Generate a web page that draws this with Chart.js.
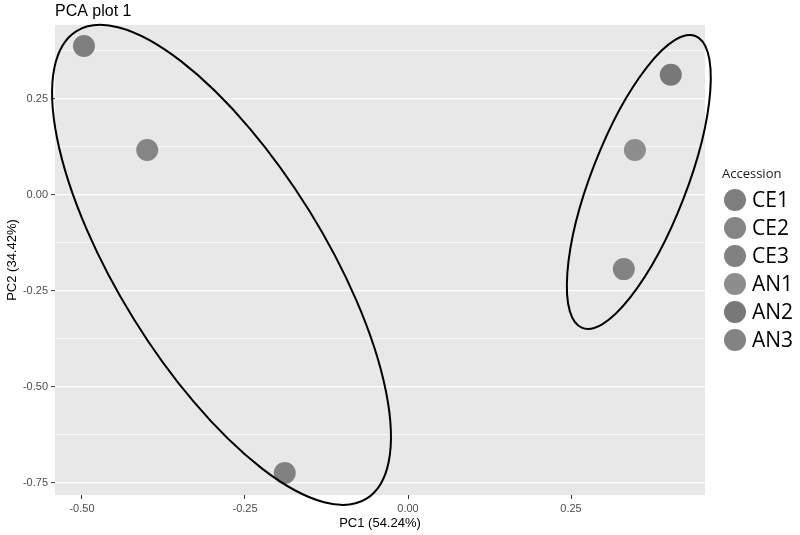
<!DOCTYPE html>
<html>
<head>
<meta charset="utf-8">
<title>PCA plot 1</title>
<script src="https://cdn.jsdelivr.net/npm/chart.js@4.4.0/dist/chart.umd.min.js"></script>
<style>
  html, body { margin: 0; padding: 0; background: #ffffff; }
  #wrap { width: 800px; height: 535px; position: relative; }
</style>
</head>
<body>
<div id="wrap"><canvas id="pca-chart"></canvas></div>
<script>
// datos
const accessions = ['CE1', 'CE2', 'CE3', 'AN1', 'AN2', 'AN3'];
const pc1 = [-0.497, -0.400, -0.189, 0.348, 0.403, 0.331];
const pc2 = [0.388, 0.117, -0.724, 0.117, 0.313, -0.193];
const pointColors = ['#7e7e7e', '#858585', '#818181', '#8d8d8d', '#787878', '#838383'];

// elipses (centro y semiejes en unidades de PC1 / PC2)
const ellipseCx = [-0.286, 0.354];
const ellipseCy = [-0.182, 0.034];
const ellipseMajorX = [0.2224, 0.0868];
const ellipseMajorY = [-0.6089, 0.3802];
const ellipseMinorX = [-0.1344, 0.0682];
const ellipseMinorY = [-0.1415, -0.0449];

const xTicksMajor = [-0.5, -0.25, 0, 0.25];
const yTicksMajor = [-0.75, -0.5, -0.25, 0, 0.25];

const fontFamily = "'Liberation Sans', Arial, sans-serif";

function isMajor(v, list) {
    return list.some(t => Math.abs(t - v) < 1e-6);
}

// fondo gris del panel
const panelBg = {
    id: 'panelBg',
    beforeDraw(chart) {
        const { ctx, chartArea: a } = chart;
        ctx.save();
        ctx.fillStyle = '#e8e8e8';
        ctx.fillRect(a.left, a.top, a.right - a.left, a.bottom - a.top);
        ctx.restore();
    }
};

// elipses dibujadas sobre los puntos
const ellipses = {
    id: 'ellipses',
    afterDatasetsDraw(chart) {
        const { ctx } = chart;
        const xs = chart.scales.x, ys = chart.scales.y;
        ctx.save();
        ctx.strokeStyle = '#000000';
        ctx.lineWidth = 2;
        for (let i = 0; i < ellipseCx.length; i++) {
            const px = xs.getPixelForValue(ellipseCx[i]);
            const py = ys.getPixelForValue(ellipseCy[i]);
            const mx = xs.getPixelForValue(ellipseCx[i] + ellipseMajorX[i]) - px;
            const my = ys.getPixelForValue(ellipseCy[i] + ellipseMajorY[i]) - py;
            const nx = xs.getPixelForValue(ellipseCx[i] + ellipseMinorX[i]) - px;
            const ny = ys.getPixelForValue(ellipseCy[i] + ellipseMinorY[i]) - py;
            ctx.beginPath();
            ctx.ellipse(px, py, Math.hypot(mx, my), Math.hypot(nx, ny), Math.atan2(my, mx), 0, Math.PI * 2);
            ctx.stroke();
        }
        ctx.restore();
    }
};

// titulo y leyenda
const extras = {
    id: 'extras',
    afterDraw(chart) {
        const { ctx, chartArea: a } = chart;
        ctx.save();
        ctx.fillStyle = '#000000';
        ctx.font = '16px ' + fontFamily;
        ctx.textBaseline = 'alphabetic';
        ctx.textAlign = 'left';
        ctx.fillText('PCA plot 1', a.left, 16);

        const lx = 722;
        ctx.font = "13px 'Open Sans', sans-serif";
        ctx.textBaseline = 'middle';
        ctx.fillStyle = '#1a1a1a';
        ctx.fillText('Accession', lx, 174);
        ctx.font = "21px 'Open Sans', sans-serif";
        accessions.forEach((name, i) => {
            const y = 200 + i * 28;
            ctx.fillStyle = pointColors[i];
            ctx.beginPath();
            ctx.arc(lx + 13, y, 11, 0, Math.PI * 2);
            ctx.fill();
            ctx.fillStyle = '#000000';
            ctx.fillText(name, lx + 30, y + 1);
        });
        ctx.restore();
    }
};

const ctx = document.getElementById('pca-chart');

new Chart(ctx, {
    type: 'scatter',
    data: {
        datasets: accessions.map((name, i) => ({
            label: name,
            data: [{ x: pc1[i], y: pc2[i] }],
            backgroundColor: pointColors[i],
            borderWidth: 0,
            pointRadius: 11,
            pointHoverRadius: 11
        }))
    },
    options: {
        responsive: true,
        maintainAspectRatio: false,
        animation: false,
        layout: { padding: { top: 25, right: 95, left: 0, bottom: 0 } },
        plugins: {
            legend: { display: false },
            tooltip: { enabled: false }
        },
        scales: {
            x: {
                type: 'linear',
                min: -0.5414,
                max: 0.4555,
                afterFit(scale) { scale.height = 40; },
                border: { display: false },
                grid: {
                    drawOnChartArea: false,
                    tickLength: 4,
                    tickColor: '#333333',
                    tickWidth: 1
                },
                ticks: {
                    stepSize: 0.25,
                    includeBounds: false,
                    padding: 3,
                    color: '#4d4d4d',
                    font: { family: fontFamily, size: 11 },
                    callback: v => v.toFixed(2)
                },
                title: {
                    display: true,
                    text: 'PC1 (54.24%)',
                    color: '#000000',
                    font: { family: fontFamily, size: 13 },
                    padding: { top: 0, bottom: 4 }
                }
            },
            y: {
                type: 'linear',
                min: -0.7813,
                max: 0.4427,
                afterFit(scale) { scale.width = 55; },
                border: { display: false },
                grid: {
                    color: '#ffffff',
                    lineWidth: c => isMajor(c.tick.value, yTicksMajor) ? 1.3 : 0.7,
                    tickLength: 4,
                    tickWidth: 1,
                    tickColor: c => isMajor(c.tick.value, yTicksMajor) ? '#333333' : 'rgba(0,0,0,0)'
                },
                ticks: {
                    stepSize: 0.125,
                    includeBounds: false,
                    autoSkip: false,
                    padding: 3,
                    color: '#4d4d4d',
                    font: { family: fontFamily, size: 11 },
                    callback: v => isMajor(v, yTicksMajor) ? v.toFixed(2) : ''
                },
                title: {
                    display: true,
                    text: 'PC2 (34.42%)',
                    color: '#000000',
                    font: { family: fontFamily, size: 13 },
                    padding: { top: 5, bottom: 0 }
                }
            }
        }
    },
    plugins: [panelBg, ellipses, extras]
});
</script>
</body>
</html>
